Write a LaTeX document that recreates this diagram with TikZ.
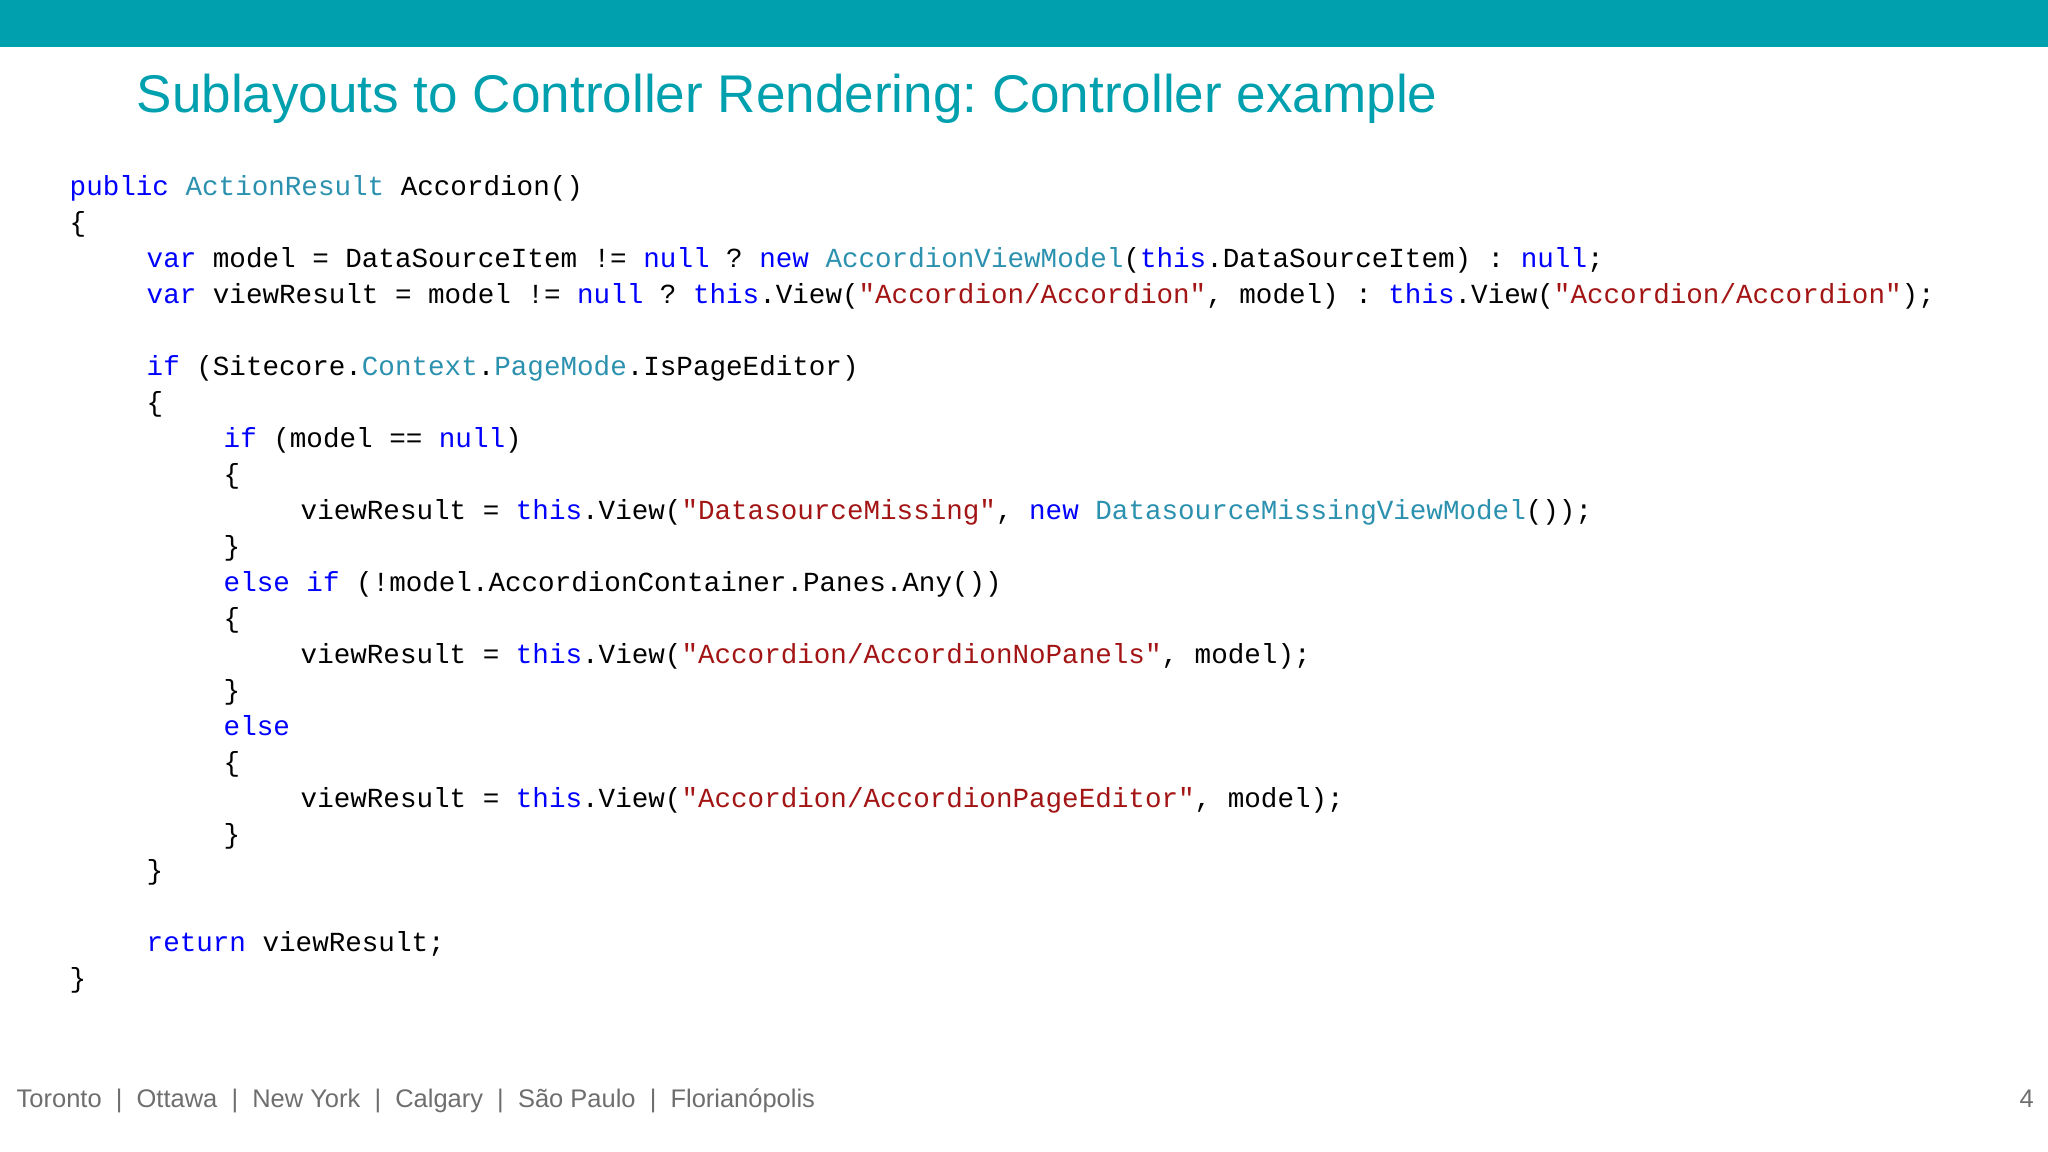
\documentclass[tikz,border=0pt]{standalone}
\usepackage{fontspec}
\setmainfont{Liberation Sans}
\setmonofont{Liberation Mono}
\usetikzlibrary{positioning}
\frenchspacing
\definecolor{barteal}{RGB}{0,160,174}
\definecolor{kwblue}{RGB}{0,0,255}
\definecolor{typeteal}{RGB}{43,145,175}
\definecolor{strred}{RGB}{163,21,21}
\definecolor{footgray}{RGB}{110,110,110}
\newcommand{\kw}[1]{\textcolor{kwblue}{#1}}
\newcommand{\ty}[1]{\textcolor{typeteal}{#1}}
\newcommand{\st}[1]{\textcolor{strred}{#1}}

\begin{document}
\begin{tikzpicture}[x=1cm,y=1cm]
  \tikzset{CodeStyle/.style = {
    anchor     = base west,
    inner sep  = 0pt,
    font       = \ttfamily\fontsize{7.85}{9}\selectfont
    }
  }
  \tikzset{FootStyle/.style = {
    anchor     = base west,
    inner sep  = 0pt,
    text       = footgray,
    font       = \fontsize{7.25}{9}\selectfont
    }
  }
  \useasboundingbox (0,0) rectangle (20.48,11.52);
  \fill[barteal] (0,11.05) rectangle (20.48,11.52);

  \node[anchor=west, inner sep=0pt, text=barteal,
    font=\fontsize{15.1}{18}\selectfont] (title) at (1.36,10.53)
    {Sublayouts to Controller Rendering: Controller example};

  % code lines: x = 0.69 + 0.77*indent, y from line number
  \node[CodeStyle] (L1)  at (0.69, 9.56) {\kw{public} \ty{ActionResult} Accordion()};
  \node[CodeStyle] (L2)  at (0.69, 9.20) {\{};
  \node[CodeStyle] (L3)  at (1.46, 8.84) {\kw{var} model = DataSourceItem != \kw{null} ? \kw{new} \ty{AccordionViewModel}(\kw{this}.DataSourceItem) : \kw{null};};
  \node[CodeStyle] (L4)  at (1.46, 8.48) {\kw{var} viewResult = model != \kw{null} ? \kw{this}.View(\st{"Accordion/Accordion"}, model) : \kw{this}.View(\st{"Accordion/Accordion"});};
  \node[CodeStyle] (L6)  at (1.46, 7.76) {\kw{if} (Sitecore.\ty{Context}.\ty{PageMode}.IsPageEditor)};
  \node[CodeStyle] (L7)  at (1.46, 7.40) {\{};
  \node[CodeStyle] (L8)  at (2.23, 7.04) {\kw{if} (model == \kw{null})};
  \node[CodeStyle] (L9)  at (2.23, 6.68) {\{};
  \node[CodeStyle] (L10) at (3.00, 6.32) {viewResult = \kw{this}.View(\st{"DatasourceMissing"}, \kw{new} \ty{DatasourceMissingViewModel}());};
  \node[CodeStyle] (L11) at (2.23, 5.96) {\}};
  \node[CodeStyle] (L12) at (2.23, 5.60) {\kw{else} \kw{if} (!model.AccordionContainer.Panes.Any())};
  \node[CodeStyle] (L13) at (2.23, 5.24) {\{};
  \node[CodeStyle] (L14) at (3.00, 4.88) {viewResult = \kw{this}.View(\st{"Accordion/AccordionNoPanels"}, model);};
  \node[CodeStyle] (L15) at (2.23, 4.52) {\}};
  \node[CodeStyle] (L16) at (2.23, 4.16) {\kw{else}};
  \node[CodeStyle] (L17) at (2.23, 3.80) {\{};
  \node[CodeStyle] (L18) at (3.00, 3.44) {viewResult = \kw{this}.View(\st{"Accordion/AccordionPageEditor"}, model);};
  \node[CodeStyle] (L19) at (2.23, 3.08) {\}};
  \node[CodeStyle] (L20) at (1.46, 2.72) {\}};
  \node[CodeStyle] (L22) at (1.46, 2.00) {\kw{return} viewResult;};
  \node[CodeStyle] (L23) at (0.69, 1.64) {\}};

  \node[FootStyle] (cities) at (0.16,0.44)
    {Toronto \ \textbar\ \ Ottawa \ \textbar\ \ New York \ \textbar\ \ Calgary \ \textbar\ \ São Paulo \ \textbar\ \ Florianópolis};
  \node[FootStyle] (page) at (20.19,0.44) {4};
\end{tikzpicture}
\end{document}
